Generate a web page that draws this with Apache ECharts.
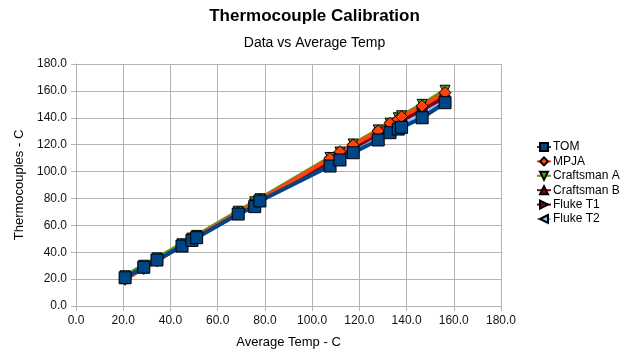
<!DOCTYPE html>
<html><head><meta charset="utf-8">
<script src="https://cdn.jsdelivr.net/npm/echarts@6/dist/echarts.min.js"></script>
<style>html,body{margin:0;padding:0;background:#fff}#c{width:629px;height:358px}</style>
</head><body><div id="c"></div>
<script>
var avgTemp = [20.8, 28.7, 34.3, 44.9, 49.1, 51.1, 68.7, 75.7, 77.9, 107.6, 111.8, 117.4, 128.0, 133.0, 136.5, 137.9, 146.6, 156.3];
var tom = [21.0, 28.8, 34.2, 44.6, 48.8, 50.8, 68.4, 73.9, 78.1, 104.1, 108.6, 114.0, 123.5, 128.9, 131.6, 132.9, 140.0, 151.2];
var mpja = [19.9, 27.9, 33.6, 45.2, 49.6, 51.6, 69.5, 76.5, 78.9, 109.8, 114.8, 119.8, 130.2, 135.9, 138.9, 140.8, 148.8, 158.7];
var craftsmanA = [22.5, 30.3, 35.8, 46.3, 50.5, 52.5, 70.5, 77.5, 79.8, 110.5, 114.5, 120.5, 131.0, 136.0, 140.0, 141.5, 150.0, 160.5];
var craftsmanB = [20.5, 28.5, 34.0, 45.0, 49.5, 51.5, 69.0, 76.0, 78.5, 108.0, 112.0, 118.0, 128.5, 134.0, 137.0, 138.5, 146.5, 156.0];
var flukeT1 = [20.8, 28.6, 34.1, 45.0, 49.3, 51.3, 68.8, 75.8, 78.2, 107.5, 111.5, 117.5, 128.0, 133.5, 136.5, 138.0, 146.0, 155.5];
var flukeT2 = [20.9, 28.7, 34.2, 44.8, 49.0, 51.0, 68.6, 75.0, 78.0, 106.0, 110.0, 115.5, 125.5, 131.0, 133.5, 135.0, 142.5, 153.0];
var seriesNames = ['TOM', 'MPJA', 'Craftsman A', 'Craftsman B', 'Fluke T1', 'Fluke T2'];

var F = 'Liberation Sans, Arial, sans-serif';
function pairs(ys){ return avgTemp.map(function(x,i){ return [x, ys[i]]; }); }
function mk(name, ys, color, symbol, size, z){
  return {
    name: name, type: 'line', data: pairs(ys), z: z,
    symbol: symbol, symbolSize: size, showSymbol: true,
    lineStyle: {color: color, width: 4},
    itemStyle: {color: color, borderColor: '#000', borderWidth: 1},
    emphasis: {disabled: true}, animation: false
  };
}
var chart = echarts.init(document.getElementById('c'), null, {renderer: 'canvas'});
chart.setOption({
  animation: false,
  backgroundColor: '#fff',
  title: [
    {text: 'Thermocouple Calibration', left: 'center', top: 3,
     textStyle: {fontFamily: F, fontSize: 17, fontWeight: 'bold', color: '#000'}},
    {text: 'Data vs Average Temp', left: 'center', top: 31,
     textStyle: {fontFamily: F, fontSize: 14, fontWeight: 'normal', color: '#000'}}
  ],
  legend: {
    orient: 'vertical', left: 531, top: 136, itemGap: 2.4, itemWidth: 14, itemHeight: 10,
    data: seriesNames,
    textStyle: {fontFamily: F, fontSize: 12, color: '#000', padding: [0,0,0,-3]}
  },
  grid: {left: 76, right: 128, top: 64, bottom: 52},
  xAxis: {
    type: 'value', min: 0, max: 180, interval: 20,
    name: 'Average Temp - C', nameLocation: 'middle', nameGap: 30,
    nameTextStyle: {fontFamily: F, fontSize: 13, color: '#000'},
    axisLine: {show: true, lineStyle: {color: '#b3b3b3'}},
    axisTick: {show: true, length: 5, lineStyle: {color: '#b3b3b3'}},
    axisLabel: {fontFamily: F, fontSize: 12, color: '#111', margin: 9,
      formatter: function(v){ return v.toFixed(1); }},
    splitLine: {show: true, lineStyle: {color: '#b3b3b3'}}
  },
  yAxis: {
    type: 'value', min: 0, max: 180, interval: 20,
    name: 'Thermocouples - C', nameLocation: 'middle', nameGap: 50, nameRotate: 90,
    nameTextStyle: {fontFamily: F, fontSize: 13, color: '#000'},
    axisLine: {show: true, lineStyle: {color: '#b3b3b3'}},
    axisTick: {show: true, length: 5, lineStyle: {color: '#b3b3b3'}},
    axisLabel: {fontFamily: F, fontSize: 12, color: '#111', margin: 9,
      formatter: function(v){ return v.toFixed(1); }},
    splitLine: {show: true, lineStyle: {color: '#b3b3b3'}}
  },
  series: [
    mk('Fluke T2', flukeT2, '#83caff', 'path://M10,0 L0,5 L10,10 Z', 10, 2),
    mk('Fluke T1', flukeT1, '#7e0021', 'path://M0,0 L10,5 L0,10 Z', 10, 2),
    mk('Craftsman B', craftsmanB, '#7e0021', 'triangle', 10, 2),
    mk('Craftsman A', craftsmanA, '#579d1c', 'path://M0,0 L10,0 L5,10 Z', 10, 2),
    mk('MPJA', mpja, '#ff420e', 'diamond', 12, 2),
    mk('TOM', tom, '#004586', 'rect', 12, 3)
  ]
});
</script></body></html>
